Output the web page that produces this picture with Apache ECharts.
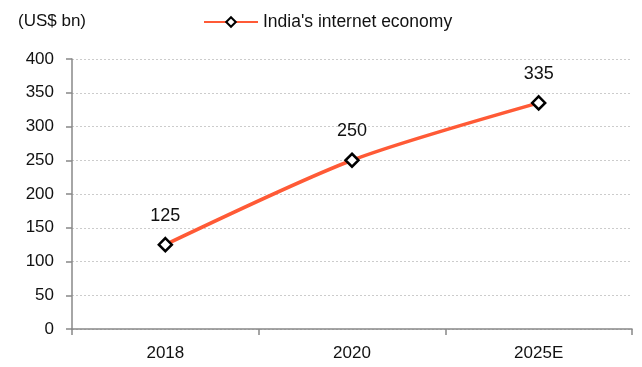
<!DOCTYPE html>
<html>
<head>
<meta charset="utf-8">
<script src="https://cdn.jsdelivr.net/npm/echarts@6/dist/echarts.min.js"></script>
<style>
  html, body { margin: 0; padding: 0; background: #fff; }
  #chart { width: 642px; height: 367px; }
</style>
</head>
<body>
<div id="chart"></div>
<script>
// Chart data
const years = ['2018', '2020', '2025E'];
const internetEconomy = [125, 250, 335];
const seriesName = "India's internet economy";
const unitLabel = '(US$ bn)';

const FONT = '"Liberation Sans", Arial, sans-serif';
const LINE_COLOR = '#FF5A36';

const chart = echarts.init(document.getElementById('chart'));
chart.setOption({
  animation: false,
  textStyle: { fontFamily: FONT },
  grid: { left: 72, right: 10, top: 59, bottom: 38 },
  title: {
    text: unitLabel,
    left: 13, top: 8,
    textStyle: { fontFamily: FONT, fontSize: 17, fontWeight: 'normal', color: '#111' }
  },
  legend: {
    data: [seriesName],
    left: 198, top: 8,
    itemWidth: 54, itemHeight: 12, itemGap: 5,
    textStyle: { fontFamily: FONT, fontSize: 17.5, color: '#111' }
  },
  xAxis: {
    type: 'category',
    data: years,
    boundaryGap: true,
    axisLine: { lineStyle: { color: '#888', width: 1.5 } },
    axisTick: { show: true, length: 6, lineStyle: { color: '#888', width: 1.5 } },
    axisLabel: { fontFamily: FONT, fontSize: 17, color: '#111', margin: 16 }
  },
  yAxis: {
    type: 'value',
    min: 0, max: 400, interval: 50,
    axisLine: { show: true, lineStyle: { color: '#888', width: 1.5 } },
    axisTick: { show: true, inside: false, length: 6, lineStyle: { color: '#888', width: 1.5 } },
    axisLabel: { fontFamily: FONT, fontSize: 17, color: '#111', margin: 18 },
    splitLine: { show: true, lineStyle: { color: '#ccc', type: [2, 2], width: 1 } }
  },
  series: [{
    name: seriesName,
    type: 'line',
    data: internetEconomy,
    smooth: 0.25,
    symbol: 'diamond',
    symbolSize: 13,
    lineStyle: { color: LINE_COLOR, width: 3.5 },
    itemStyle: { color: '#fff', borderColor: '#000', borderWidth: 2.5 },
    label: {
      show: true, position: 'top', distance: 12,
      fontFamily: FONT, fontSize: 18, color: '#111'
    },
    z: 3
  }]
});
</script>
</body>
</html>
